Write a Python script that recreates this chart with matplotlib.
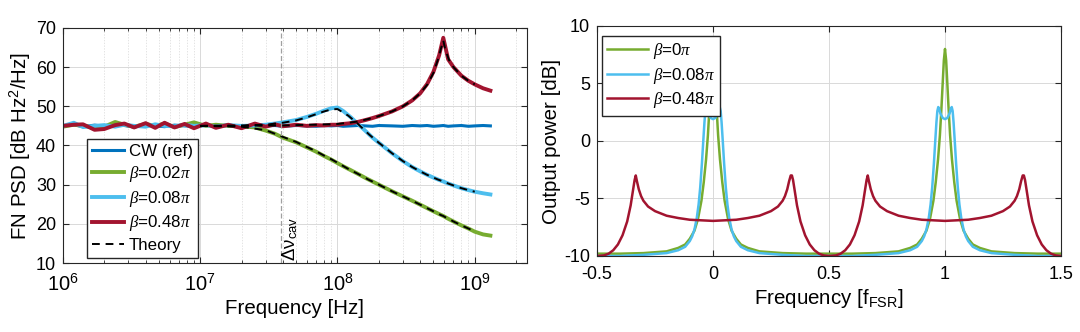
import numpy as np
import matplotlib
matplotlib.use("Agg")
import matplotlib.pyplot as plt

plt.rcParams['font.family'] = ['Liberation Sans', 'DejaVu Sans']
plt.rcParams['mathtext.fontset'] = 'custom'
plt.rcParams['mathtext.rm'] = 'Liberation Sans'
plt.rcParams['mathtext.it'] = 'Liberation Serif:italic'

# ---- left panel: FN PSD ----
f_meas = [1.0e6, 1.2e6, 1.4e6, 1.7e6, 2.0e6, 2.4e6, 2.8e6, 3.3e6, 4.0e6, 4.7e6,
          5.5e6, 6.5e6, 7.7e6, 9.0e6, 1.1e7, 1.3e7, 1.6e7, 2.0e7, 2.5e7, 3.0e7,
          3.5e7, 4.0e7, 5.0e7, 6.0e7, 7.0e7, 8.0e7, 9.0e7, 1.0e8, 1.1e8, 1.25e8,
          1.4e8, 1.6e8, 1.8e8, 2.0e8, 2.5e8, 3.0e8, 3.5e8, 4.0e8, 4.5e8, 5.0e8,
          5.5e8, 5.9e8, 6.4e8, 7.0e8, 8.0e8, 9.0e8, 1.0e9, 1.15e9, 1.3e9]
psd_cw = [45.0, 45.3, 44.8, 45.2, 44.9, 45.4, 45.1, 44.7, 45.3, 45.0,
          44.8, 45.2, 45.0, 44.9, 45.1, 45.0, 45.2, 44.9, 45.1, 45.0,
          45.1, 44.9, 45.1, 45.0, 44.9, 45.1, 45.0, 45.1, 44.9, 45.0,
          45.1, 45.0, 44.9, 45.1, 45.0, 44.9, 45.1, 45.0, 45.1, 44.9,
          45.0, 45.1, 44.9, 45.0, 45.1, 44.9, 45.0, 45.1, 45.0]
psd_b002 = [44.8, 45.3, 45.0, 44.6, 44.8, 46.0, 45.3, 44.8, 45.5, 45.0,
            45.6, 44.7, 45.3, 45.9, 45.0, 45.3, 45.0, 44.9, 44.6, 43.8,
            43.0, 42.0, 40.8, 39.5, 38.4, 37.3, 36.4, 35.5, 34.7, 33.7,
            32.8, 31.7, 30.8, 30.0, 28.3, 27.0, 25.9, 24.9, 24.0, 23.2,
            22.5, 22.0, 21.3, 20.6, 19.6, 18.8, 18.0, 17.3, 17.0]
psd_b008 = [45.0, 45.8, 44.7, 45.0, 45.2, 44.8, 45.3, 45.0, 44.8, 45.4,
            45.0, 44.9, 45.3, 45.0, 45.2, 44.8, 45.2, 45.0, 45.1, 45.3,
            45.6, 45.9, 46.5, 47.3, 48.1, 48.9, 49.5, 49.7, 48.8, 47.2,
            45.6, 43.7, 42.0, 40.7, 38.0, 36.0, 34.5, 33.4, 32.5, 31.8,
            31.2, 30.8, 30.3, 29.8, 29.1, 28.6, 28.2, 27.8, 27.5]
psd_b048 = [45.0, 45.3, 45.4, 44.0, 44.2, 45.2, 45.6, 44.6, 45.7, 44.5,
            45.8, 44.6, 45.5, 44.4, 45.6, 44.5, 45.3, 44.4, 45.6, 44.8,
            45.4, 44.9, 45.3, 45.0, 45.2, 45.1, 45.3, 45.3, 45.5, 45.7,
            46.0, 46.5, 47.0, 47.5, 48.7, 50.0, 51.5, 53.3, 55.7, 58.8,
            63.0, 67.5, 62.0, 60.0, 57.8, 56.5, 55.6, 54.6, 54.0]

f_theory = [1e7, 2e7, 3e7, 4e7, 5e7, 6e7, 7e7, 8e7, 9e7, 1e8, 1.2e8, 1.4e8,
            1.7e8, 2e8, 2.5e8, 3e8, 3.5e8, 4e8, 4.5e8, 5e8, 5.4e8, 5.7e8,
            5.9e8, 6.1e8, 6.5e8, 7e8, 8e8, 9e8, 1e9]
th_b002 = [45.0, 44.8, 43.9, 42.2, 40.9, 39.6, 38.5, 37.4, 36.5, 35.6, 34.0, 32.8,
           31.2, 30.0, 28.3, 27.0, 25.9, 24.9, 24.0, 23.2, 22.6, 22.2,
           22.0, 21.7, 21.2, 20.6, 19.6, 18.8, 18.0]
th_b008 = [45.0, 45.1, 45.3, 45.8, 46.4, 47.2, 48.0, 48.7, 49.2, 49.3, 47.6, 45.6,
           42.8, 40.7, 38.0, 36.0, 34.5, 33.4, 32.5, 31.8, 31.3, 31.0,
           30.8, 30.6, 30.2, 29.8, 29.1, 28.6, 28.2]
th_b048 = [45.0, 45.0, 45.1, 45.1, 45.2, 45.3, 45.3, 45.4, 45.4, 45.5, 45.8, 46.1,
           46.8, 47.5, 48.7, 50.0, 51.5, 53.3, 55.5, 58.5, 62.0, 65.0,
           66.8, 64.5, 61.8, 60.0, 57.8, 56.5, 55.6]

f_cav = 3.9e7

# ---- right panel: output power vs frequency (one FSR period) ----
x_b0 = [-0.5, -0.4, -0.3, -0.2, -0.15, -0.12, -0.1, -0.08, -0.065, -0.05, -0.04,
        -0.03, -0.022, -0.015, -0.01, -0.005, 0.0, 0.005, 0.01, 0.015, 0.022,
        0.03, 0.04, 0.05, 0.065, 0.08, 0.1, 0.12, 0.15, 0.2, 0.3, 0.4, 0.5]
p_b0 = [-9.8, -9.8, -9.75, -9.6, -9.3, -9.0, -8.5, -7.8, -6.8, -5.2, -3.6,
        -1.6, 0.5, 3.0, 5.0, 7.0, 8.0, 7.0, 5.0, 3.0, 0.5,
        -1.6, -3.6, -5.2, -6.8, -7.8, -8.5, -9.0, -9.3, -9.6, -9.75, -9.8, -9.8]

x_b008 = [-0.5, -0.4, -0.3, -0.2, -0.15, -0.12, -0.1, -0.09, -0.08, -0.07, -0.062,
          -0.055, -0.048, -0.042, -0.037, -0.033, -0.029, -0.025, -0.02, -0.01,
          0.0, 0.01, 0.02, 0.025, 0.029, 0.033, 0.037, 0.042, 0.048, 0.055,
          0.062, 0.07, 0.08, 0.09, 0.1, 0.12, 0.15, 0.2, 0.3, 0.4, 0.5]
p_b008 = [-10.0, -10.0, -9.9, -9.75, -9.5, -9.2, -8.7, -8.3, -7.7, -6.7, -5.5,
          -4.0, -2.0, 0.0, 1.6, 2.6, 2.95, 2.8, 2.4, 2.0,
          1.9, 2.0, 2.4, 2.8, 2.95, 2.6, 1.6, 0.0, -2.0, -4.0,
          -5.5, -6.7, -7.7, -8.3, -8.7, -9.2, -9.5, -9.75, -9.9, -10.0, -10.0]

x_b048 = [-0.5, -0.47, -0.45, -0.43, -0.41, -0.39, -0.37, -0.355, -0.345, -0.338,
          -0.333, -0.328, -0.32, -0.31, -0.3, -0.28, -0.25, -0.2, -0.15, -0.1,
          -0.05, 0.0, 0.05, 0.1, 0.15, 0.2, 0.25, 0.28, 0.3, 0.31, 0.32, 0.328,
          0.335, 0.34, 0.345, 0.352, 0.362, 0.377, 0.397, 0.417, 0.437, 0.457,
          0.477, 0.5]
p_b048 = [-10.0, -9.95, -9.8, -9.5, -9.0, -8.2, -7.0, -5.6, -4.3, -3.4,
          -3.0, -3.5, -4.2, -4.8, -5.2, -5.7, -6.1, -6.5, -6.7, -6.85,
          -6.9, -6.95, -6.9, -6.85, -6.7, -6.5, -6.1, -5.7, -5.2, -4.8, -4.2, -3.5,
          -3.0, -3.0, -3.4, -4.3, -5.6, -7.0, -8.2, -9.0, -9.5, -9.8,
          -9.95, -10.0]

c_blue = '#0072BD'
c_green = '#77AC30'
c_cyan = '#4DBEEE'
c_red = '#A2142F'
c_axis = '#262626'

fig = plt.figure(figsize=(10.8, 3.32), dpi=100)
ax1 = fig.add_axes([0.0583, 0.2078, 0.4296, 0.708])
ax2 = fig.add_axes([0.5528, 0.229, 0.4296, 0.6928])


def style_axes(ax, xsize):
    for s in ax.spines.values():
        s.set_color(c_axis)
        s.set_linewidth(0.8)
    ax.tick_params(which='both', direction='in', top=True, right=True,
                   colors=c_axis, labelsize=13, labelcolor='black')
    ax.tick_params(which='major', length=4)
    ax.tick_params(which='minor', length=2)
    ax.tick_params(axis='x', which='both', pad=7, labelsize=xsize)
    ax.tick_params(axis='y', which='both', pad=5)


def add_legend(ax, loc, anchor, hl):
    ax.legend(loc=loc, bbox_to_anchor=anchor, borderaxespad=0,
              fontsize=12.2, frameon=True, fancybox=False, edgecolor=c_axis,
              framealpha=1, handlelength=hl, handletextpad=0.3,
              labelspacing=0.28, borderpad=0.3)


# left
ax1.semilogx(f_meas, psd_cw, color=c_blue, lw=2.2, label='CW (ref)')
ax1.semilogx(f_meas, psd_b002, color=c_green, lw=2.8, label=r'$\beta$=0.02$\pi$')
ax1.semilogx(f_meas, psd_b008, color=c_cyan, lw=2.8, label=r'$\beta$=0.08$\pi$')
ax1.semilogx(f_meas, psd_b048, color=c_red, lw=2.8, label=r'$\beta$=0.48$\pi$')
ax1.semilogx(f_theory, th_b002, color='black', lw=1.4, ls=(0, (4, 3)), label='Theory')
ax1.semilogx(f_theory, th_b008, color='black', lw=1.4, ls=(0, (4, 3)))
ax1.semilogx(f_theory, th_b048, color='black', lw=1.4, ls=(0, (4, 3)))
ax1.axvline(f_cav, color='#a0a0a0', lw=0.9, ls=(0, (4, 2)))
ax1.text(4.55e7, 10.4, r'Δν$_{\rm cav}$', rotation=90, fontsize=13.5,
         ha='center', va='bottom')
ax1.set_xlim(1e6, 2.4e9)
ax1.set_ylim(10, 70)
ax1.set_yticks(range(10, 71, 10))
ax1.grid(True, which='major', color='#d9d9d9', lw=0.7)
ax1.grid(True, which='minor', color='#d9d9d9', lw=0.5, ls=(0, (2, 2)))
ax1.set_axisbelow(True)
ax1.set_xlabel('Frequency [Hz]', fontsize=14.8, labelpad=3)
ax1.set_ylabel(r'FN PSD [dB Hz$^2$/Hz]', fontsize=14.8, labelpad=2)
style_axes(ax1, 14.5)
add_legend(ax1, 'lower left', (0.051, 0.02), 1.9)

# right
xs0 = np.array(x_b0)
xs1 = np.array(x_b008)
xs2 = np.array(x_b048)
ax2.plot(np.concatenate([xs0, xs0 + 1]), p_b0 + p_b0, color=c_green, lw=1.8,
         label=r'$\beta$=0$\pi$')
ax2.plot(np.concatenate([xs1, xs1 + 1]), p_b008 + p_b008, color=c_cyan, lw=1.8,
         label=r'$\beta$=0.08$\pi$')
ax2.plot(np.concatenate([xs2, xs2 + 1]), p_b048 + p_b048, color=c_red, lw=1.8,
         label=r'$\beta$=0.48$\pi$')
ax2.set_xlim(-0.5, 1.5)
ax2.set_ylim(-10, 10)
ax2.set_xticks([-0.5, 0, 0.5, 1, 1.5])
ax2.set_xticklabels(['-0.5', '0', '0.5', '1', '1.5'])
ax2.set_yticks([-10, -5, 0, 5, 10])
ax2.set_yticklabels(['-10', '-5', '0', '5', '10'])
ax2.grid(True, color='#d9d9d9', lw=0.7)
ax2.set_axisbelow(True)
ax2.set_xlabel(r'Frequency [f$_{\rm FSR}$]', fontsize=14.8, labelpad=3)
ax2.set_ylabel('Output power [dB]', fontsize=14.8, labelpad=2)
style_axes(ax2, 13)
add_legend(ax2, 'upper left', (0.011, 0.957), 2.4)

plt.savefig('out.png', dpi=100)
